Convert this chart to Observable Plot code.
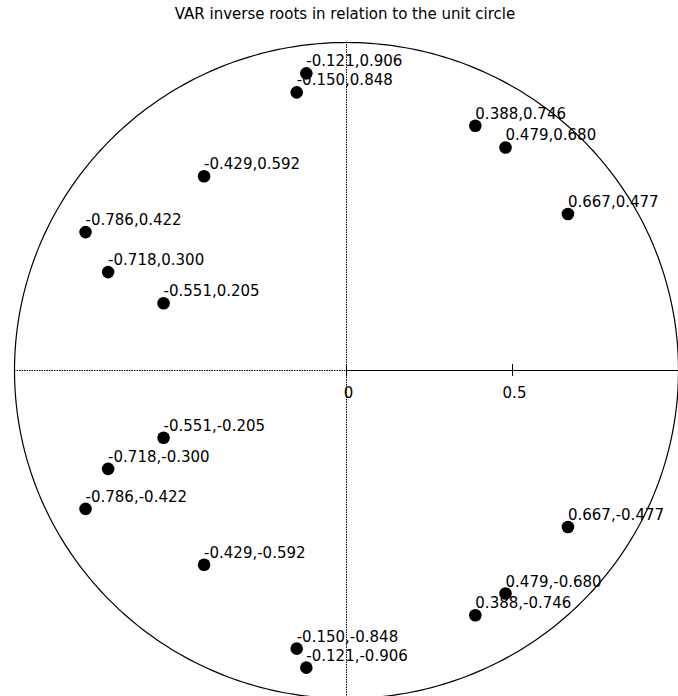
<!DOCTYPE html>
<html>
<head>
<meta charset="utf-8">
<script src="https://cdn.jsdelivr.net/npm/d3@7"></script>
<script src="https://cdn.jsdelivr.net/npm/@observablehq/plot@0.6"></script>
<style>
  html, body { margin: 0; padding: 0; background: white; }
  #title { height: 28px; width: 678px; position: relative; font-family: "DejaVu Sans", sans-serif; font-size: 15px; color: #000; }
  #title span { position: absolute; top: 5px; left: 0; width: 690px; text-align: center; line-height: 18px; }
  #chart svg { display: block; }
</style>
</head>
<body>
<div id="title"><span>VAR inverse roots in relation to the unit circle</span></div>
<div id="chart"></div>
<script>
// Inverse roots (real part, imaginary part)
const realParts = [-0.121, -0.150, 0.388, 0.479, -0.429, 0.667, -0.786, -0.718, -0.551,
                   -0.551, -0.718, -0.786, -0.429, 0.667, 0.479, 0.388, -0.150, -0.121];
const imagParts = [0.906, 0.848, 0.746, 0.680, 0.592, 0.477, 0.422, 0.300, 0.205,
                   -0.205, -0.300, -0.422, -0.592, -0.477, -0.680, -0.746, -0.848, -0.906];
const tickValues = [0, 0.5];
const tickLabels = ["0", "0.5"];

const roots = realParts.map((re, i) => ({
  re, im: imagParts[i],
  label: re.toFixed(3) + "," + imagParts[i].toFixed(3)
}));
const ticks = tickValues.map((v, i) => ({v, label: tickLabels[i]}));

// unit circle reference outline
const circle = d3.range(0, 361).map(a => ({re: Math.cos(a * Math.PI / 180), im: Math.sin(a * Math.PI / 180)}));

const font = "DejaVu Sans, sans-serif";

const plot = Plot.plot({
  width: 678,
  height: 668,
  margin: 0,
  x: {domain: [-1, 1], range: [14, 678], axis: null},
  y: {domain: [-1, 1], range: [670, 14], axis: null},
  style: {background: "white", fontFamily: font},
  marks: [
    Plot.ruleY([0], {x1: -1, x2: 0, stroke: "#000", strokeWidth: 1, strokeDasharray: "1.5,1"}),
    Plot.ruleY([0], {x1: 0, x2: 1, stroke: "#000", strokeWidth: 1.2}),
    Plot.ruleX([0], {y1: -1, y2: 1, stroke: "#000", strokeWidth: 1, strokeDasharray: "1.5,1"}),
    Plot.ruleX(ticks, {x: "v", y1: 0, y2: 0, insetTop: -6, insetBottom: -6, stroke: "#000", strokeWidth: 1}),
    Plot.text(ticks, {x: "v", y: 0, text: "label", lineAnchor: "bottom", dy: 27, dx: 2, fontSize: 15, fontFamily: font, fill: "#000"}),
    Plot.line(circle, {x: "re", y: "im", stroke: "#000", strokeWidth: 1.2}),
    Plot.dot(roots, {x: "re", y: "im", r: 6.3, fill: "#000", stroke: "none"}),
    Plot.text(roots, {x: "re", y: "im", text: "label", textAnchor: "start", lineAnchor: "bottom", dx: 0, dy: -7, fontSize: 15, fontFamily: font, fill: "#000"})
  ]
});
document.getElementById("chart").appendChild(plot);
</script>
</body>
</html>
